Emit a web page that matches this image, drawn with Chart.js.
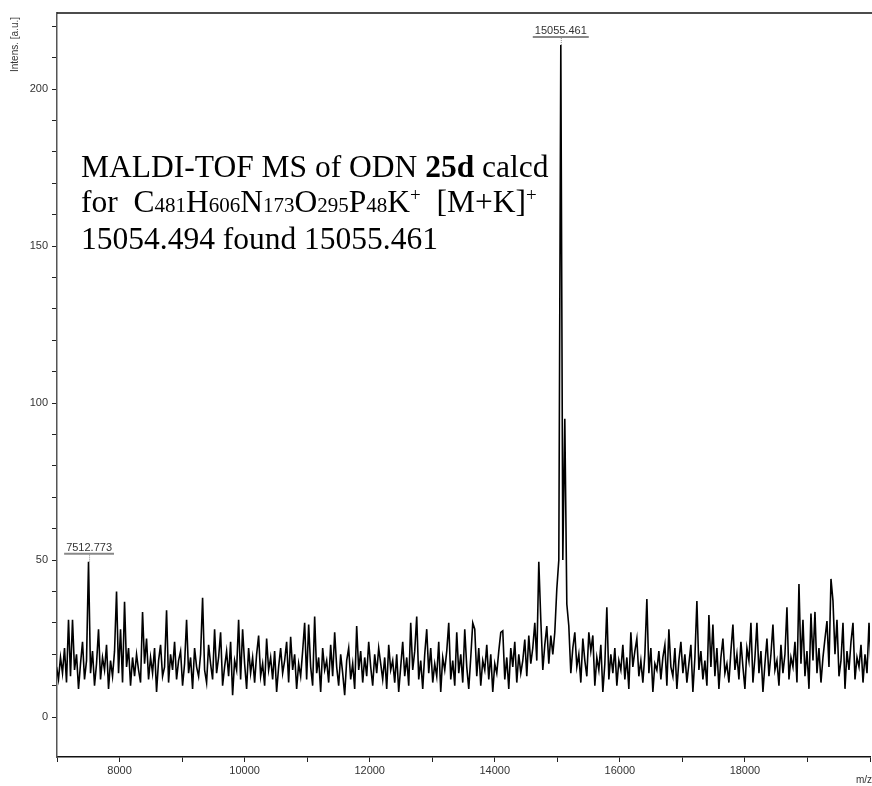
<!DOCTYPE html>
<html>
<head>
<meta charset="utf-8">
<script src="https://cdn.jsdelivr.net/npm/chart.js@4/dist/chart.umd.min.js"></script>
<style>
  html, body { margin: 0; padding: 0; background: #fff; }
  #wrap { width: 872px; height: 786px; }
</style>
</head>
<body>
<div id="wrap"><canvas id="spectrumChart" width="872" height="786"></canvas></div>
<script>
// sampling grid of the trace (m/z)
const mzStart = 6992;
const mzStep = 32;

// intensities, one per sample
const intensity = [
  16, 12, 19, 14, 22, 11, 31, 13, 31, 15, 20, 9, 17, 24, 12, 18, 49.5, 14, 21, 10,
  17, 28, 12, 19, 15, 23, 9, 18, 13, 21, 40, 14, 28, 11, 36.7, 16, 22, 10, 19, 13,
  20, 15, 11, 33.5, 17, 25, 12, 19, 14, 22, 8, 18, 23, 13, 16, 34, 11, 20, 15, 24,
  12, 18, 21, 10, 17, 31, 14, 19, 9, 22, 16, 13, 20, 38, 15, 11, 23, 17, 12, 28,
  14, 19, 27, 10, 16, 21, 13, 24, 7, 18, 15, 31, 12, 28, 17, 9, 22, 14, 19, 11,
  20, 26, 13, 17, 10, 25, 15, 19, 12, 21, 8, 16, 22, 14, 18, 24, 11, 25.6, 15, 20,
  9, 17, 13, 21, 30, 12, 29.5, 16, 10, 32, 14, 19, 8, 22, 15, 18, 11, 23, 13, 27,
  16, 10, 20, 14, 7, 18, 22, 12, 17, 9, 29, 15, 21, 11, 19, 13, 24, 16, 10, 20,
  14, 22, 17, 12, 19, 9, 23, 15, 18, 11, 20, 8, 16, 24, 13, 19, 10, 30, 15, 21,
  32, 12, 18, 9, 20, 28, 14, 22, 11, 17, 13, 24, 8, 19, 15, 21, 30, 12, 18, 10,
  27, 14, 20, 11, 28, 16, 9, 19, 30, 28, 13, 22, 10, 18, 15, 23, 12, 20, 8, 17,
  14, 21, 27, 27.5, 12, 19, 9, 22, 16, 24, 11, 20, 14, 18, 24.7, 13, 26, 17, 22, 30,
  18, 49.5, 31, 15, 23, 29, 17, 26, 20, 27, 40.8, 50, 214, 50, 95, 36, 29, 14, 22, 27,
  16, 20, 11, 25, 18, 13, 27, 21, 26, 10, 19, 15, 23, 8, 17, 35, 12, 20, 14, 22,
  10, 18, 15, 23, 12, 19, 9, 27, 16, 21, 25, 13, 18, 11, 20, 37.6, 14, 22, 8, 17,
  15, 21, 12, 19, 23, 10, 28, 16, 13, 22, 9, 18, 24, 14, 20, 11, 17, 23, 8, 19,
  37, 15, 21, 12, 18, 10, 32.5, 16, 29.5, 13, 22, 9, 19, 25, 14, 17, 11, 21, 29.5, 15,
  20, 12, 24, 16, 9, 22, 18, 30, 11, 19, 30, 14, 21, 8, 17, 25, 13, 20, 29.5, 15,
  18, 10, 23, 14, 20, 35, 12, 19, 16, 24, 11, 42.4, 17, 31, 13, 21, 9, 33, 18, 33.5,
  14, 22, 11, 19, 25, 30.6, 16, 44, 37, 20, 31, 13, 18, 30, 9, 21, 15, 24, 30, 12,
  19, 16, 23, 11, 20, 14, 30, 17
];

// labelled peaks
const peakMz = [7512.773, 15055.461];
const peakIntensity = [49.5, 214];
const peakLabels = ['7512.773', '15055.461'];

// axes
const xMin = 7000, xMax = 20000;
const yMin = -12.7, yMax = 224.2;

const points = intensity.map(function(v, i) {
  return { x: mzStart + i * mzStep, y: v };
});

const sansFont = '"Liberation Sans", Arial, sans-serif';
const serif = '"Liberation Serif", "Times New Roman", serif';

function drawRuns(ctx, x, y, runs) {
  runs.forEach(function(r) {
    ctx.font = r.font;
    ctx.fillText(r.text, x, y - (r.rise || 0));
    x += ctx.measureText(r.text).width;
  });
}

const decorPlugin = {
  id: 'decor',
  afterDraw: function(chart) {
    const ctx = chart.ctx;
    const area = chart.chartArea;
    const xs = chart.scales.x, ys = chart.scales.y;
    ctx.save();

    // top frame line
    ctx.strokeStyle = '#111';
    ctx.lineWidth = 1.5;
    ctx.beginPath();
    ctx.moveTo(area.left, area.top);
    ctx.lineTo(chart.width, area.top);
    ctx.stroke();

    // axis titles
    ctx.fillStyle = '#333';
    ctx.font = '10px ' + sansFont;
    ctx.save();
    ctx.translate(15, 72);
    ctx.rotate(-Math.PI / 2);
    ctx.textAlign = 'left';
    ctx.textBaseline = 'middle';
    ctx.fillText('Intens. [a.u.]', 0, 0);
    ctx.restore();
    ctx.textAlign = 'right';
    ctx.textBaseline = 'middle';
    ctx.fillText('m/z', 872, 780);

    // peak labels
    ctx.font = '11px ' + sansFont;
    ctx.textAlign = 'center';
    ctx.textBaseline = 'alphabetic';
    peakMz.forEach(function(mz, i) {
      const px = xs.getPixelForValue(mz);
      const py = ys.getPixelForValue(peakIntensity[i]);
      const lineY = py - 8;
      const w = ctx.measureText(peakLabels[i]).width;
      ctx.fillStyle = '#333';
      ctx.fillText(peakLabels[i], px, lineY - 3);
      ctx.strokeStyle = '#888';
      ctx.lineWidth = 2;
      ctx.beginPath();
      ctx.moveTo(px - w / 2 - 2, lineY);
      ctx.lineTo(px + w / 2 + 2, lineY);
      ctx.stroke();
      ctx.lineWidth = 1;
      ctx.setLineDash([1, 1]);
      ctx.beginPath();
      ctx.moveTo(px + 0.5, lineY + 1);
      ctx.lineTo(px + 0.5, py);
      ctx.stroke();
      ctx.setLineDash([]);
    });

    // annotation
    ctx.fillStyle = '#000';
    ctx.textAlign = 'left';
    ctx.textBaseline = 'alphabetic';
    const big = '31.5px ' + serif;
    const bold = 'bold 31.5px ' + serif;
    const sub = '21px ' + serif;
    const sup = '19px ' + serif;
    drawRuns(ctx, 81, 177, [
      { text: 'MALDI-TOF MS of ODN ', font: big },
      { text: '25d', font: bold },
      { text: ' calcd', font: big }
    ]);
    drawRuns(ctx, 81, 212, [
      { text: 'for  C', font: big },
      { text: '481', font: sub },
      { text: 'H', font: big },
      { text: '606', font: sub },
      { text: 'N', font: big },
      { text: '173', font: sub },
      { text: 'O', font: big },
      { text: '295', font: sub },
      { text: 'P', font: big },
      { text: '48', font: sub },
      { text: 'K', font: big },
      { text: '+', font: sup, rise: 11 },
      { text: '  [M+K]', font: big },
      { text: '+', font: sup, rise: 11 }
    ]);
    drawRuns(ctx, 81, 249, [
      { text: '15054.494 found 15055.461', font: big }
    ]);

    ctx.restore();
  }
};

const ctx = document.getElementById('spectrumChart').getContext('2d');
const chart = new Chart(ctx, {
  type: 'line',
  data: {
    datasets: [{
      data: points,
      borderColor: '#000',
      borderWidth: 1.6,
      pointRadius: 0,
      tension: 0,
      fill: false
    }]
  },
  options: {
    responsive: false,
    animation: false,
    devicePixelRatio: 1,
    layout: { padding: { top: 13, right: -2, left: 0, bottom: 0 } },
    plugins: { legend: { display: false }, tooltip: { enabled: false } },
    scales: {
      x: {
        type: 'linear',
        min: xMin,
        max: xMax,
        border: { color: '#111', width: 1.5 },
        grid: { drawOnChartArea: false, drawTicks: true, tickLength: 5, color: '#222' },
        ticks: {
          stepSize: 1000,
          autoSkip: false,
          maxRotation: 0,
          padding: 2,
          color: '#333',
          font: { size: 11, family: sansFont },
          callback: function(v) {
            return (v % 2000 === 0 && v > xMin && v < xMax) ? String(v) : '';
          }
        },
        afterBuildTicks: function(s) {
          s.ticks = s.ticks.filter(function(t) { return t.value % 1000 === 0; });
        },
        afterFit: function(s) { s.height = 29; }
      },
      y: {
        min: yMin,
        max: yMax,
        border: { color: '#555', width: 1.5 },
        grid: { drawOnChartArea: false, drawTicks: true, tickLength: 5, color: '#222' },
        ticks: {
          stepSize: 10,
          autoSkip: false,
          padding: 4,
          color: '#333',
          font: { size: 11, family: sansFont },
          callback: function(v) {
            return (Math.round(v) % 50 === 0) ? String(Math.round(v)) : '';
          }
        },
        afterBuildTicks: function(s) {
          s.ticks = s.ticks.filter(function(t) { return Math.abs(t.value - Math.round(t.value / 10) * 10) < 1e-6; });
        },
        afterFit: function(s) { s.width = 57; }
      }
    }
  },
  plugins: [decorPlugin]
});
</script>
</body>
</html>
